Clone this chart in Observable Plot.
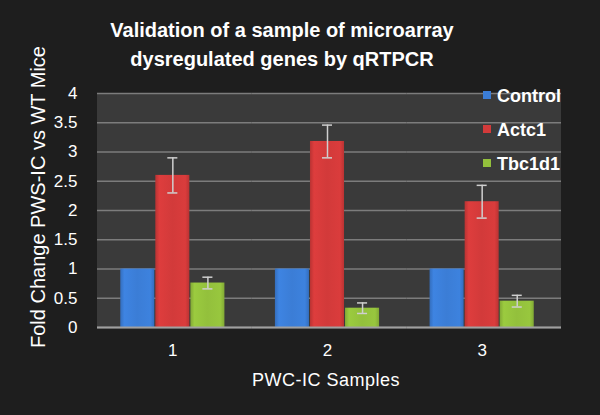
<!DOCTYPE html>
<html>
<head>
<meta charset="utf-8">
<script src="https://cdn.jsdelivr.net/npm/d3@7"></script>
<script src="https://cdn.jsdelivr.net/npm/@observablehq/plot@0.6"></script>
<style>
  body { margin: 0; background: #1e1e1e; }
  #wrap { position: relative; width: 600px; height: 415px; background: #1e1e1e; overflow: hidden; font-family: "Liberation Sans", Arial, sans-serif; color: #fff; }
  #plotbg { position: absolute; left: 97px; top: 93px; width: 464px; height: 234px; background: #3a3a3a; }
  #chart { position: absolute; left: 0; top: 0; }
  #title { position: absolute; left: 0; top: 16px; width: 564px; text-align: center; font-weight: bold; font-size: 20px; line-height: 29px; color: #fff; }
  #ylabel { position: absolute; left: 38px; top: 197px; transform: translate(-50%, -50%) rotate(-90deg); white-space: nowrap; font-size: 20px; line-height: 22px; color: #fff; }
  #xlabel { position: absolute; left: 326px; top: 380px; transform: translate(-50%, -50%); white-space: nowrap; font-size: 18px; letter-spacing: 0.5px; color: #fff; }
  #legend { position: absolute; left: 483px; top: 85px; }
  .li { position: absolute; left: 0; height: 22px; white-space: nowrap; font-weight: bold; font-size: 18px; line-height: 22px; }
  .sw { display: inline-block; width: 8px; height: 8px; margin-right: 6px; vertical-align: middle; position: relative; top: -2px; }
</style>
</head>
<body>
<div id="wrap">
  <div id="plotbg"></div>
  <div id="chart"></div>
  <div id="title">Validation of a sample of microarray<br>dysregulated genes by qRTPCR</div>
  <div id="ylabel">Fold Change PWS-IC vs WT Mice</div>
  <div id="xlabel">PWC-IC Samples</div>
  <div id="legend"></div>
</div>
<script>
const samples = ["1", "2", "3"];
const series = ["Control", "Actc1", "Tbc1d1"];
const controlValues = [1, 1, 1];
const actc1Values = [2.6, 3.18, 2.15];
const actc1Errors = [0.3, 0.28, 0.28];
const tbc1d1Values = [0.76, 0.33, 0.45];
const tbc1d1Errors = [0.1, 0.09, 0.1];
const yTicks = [0, 0.5, 1, 1.5, 2, 2.5, 3, 3.5, 4];
const seriesColors = ["#3b7dd6", "#d23a3a", "#93c03c"];

const valuesBySeries = [controlValues, actc1Values, tbc1d1Values];
const errorsBySeries = [null, actc1Errors, tbc1d1Errors];
const rows = [];
samples.forEach((s, i) => {
  series.forEach((k, j) => {
    const v = valuesBySeries[j][i];
    const e = errorsBySeries[j] ? errorsBySeries[j][i] : null;
    rows.push({sample: s, series: k, value: v, err: e});
  });
});
const errRows = rows.filter(d => d.err != null);

const gradIds = series.map((s, i) => "grad" + i);

const chart = Plot.plot({
  width: 600,
  height: 415,
  marginTop: 93,
  marginBottom: 88,
  marginLeft: 95,
  marginRight: 41,
  style: {background: "transparent", color: "#fff", fontFamily: "Liberation Sans, Arial, sans-serif", fontSize: "17px", overflow: "visible"},
  fx: {domain: samples, padding: 0, round: false, label: null, tickSize: 0, tickPadding: 16, axis: "bottom"},
  x: {domain: series, paddingInner: 0.029, paddingOuter: 0.72, round: false, axis: null},
  y: {domain: [0, 4], ticks: yTicks, tickSize: 0, tickPadding: 18, label: null, tickFormat: d => String(d)},
  color: {domain: series, range: gradIds.map(id => `url(#${id})`)},
  marks: [
    Plot.gridY(yTicks, {stroke: "#7c7c7c", strokeOpacity: 1, strokeWidth: 1.5, insetLeft: 2, insetRight: -2}),
    Plot.barY(rows, {fx: "sample", x: "series", y: "value", fill: "series"}),
    Plot.ruleX(errRows, {fx: "sample", x: "series", y1: d => d.value - d.err, y2: d => d.value + d.err, stroke: "#cfcfcf", strokeWidth: 1.5}),
    Plot.tickY(errRows, {fx: "sample", x: "series", y: d => d.value + d.err, stroke: "#cfcfcf", strokeWidth: 1.5, insetLeft: 12, insetRight: 12}),
    Plot.tickY(errRows, {fx: "sample", x: "series", y: d => d.value - d.err, stroke: "#cfcfcf", strokeWidth: 1.5, insetLeft: 12, insetRight: 12}),
    Plot.ruleY([0], {stroke: "#a0a0a0", strokeWidth: 2, insetLeft: 2, insetRight: -2})
  ]
});

// gradient definitions for a subtle bevel look
const ns = "http://www.w3.org/2000/svg";
const defs = document.createElementNS(ns, "defs");
seriesColors.forEach((c, i) => {
  const g = document.createElementNS(ns, "linearGradient");
  g.setAttribute("id", gradIds[i]);
  g.setAttribute("x1", "0"); g.setAttribute("x2", "1");
  g.setAttribute("y1", "0"); g.setAttribute("y2", "0");
  const base = d3.color(c);
  const stops = [[0, base.darker(0.35)], [0.12, base.brighter(0.15)], [0.5, base], [0.88, base.brighter(0.1)], [1, base.darker(0.35)]];
  stops.forEach(([o, col]) => {
    const st = document.createElementNS(ns, "stop");
    st.setAttribute("offset", o);
    st.setAttribute("stop-color", col.formatHex());
    g.appendChild(st);
  });
  defs.appendChild(g);
});
chart.insertBefore(defs, chart.firstChild);
document.getElementById("chart").appendChild(chart);

// legend
const legend = document.getElementById("legend");
series.forEach((s, i) => {
  const item = document.createElement("div");
  item.className = "li";
  item.style.top = (i * 34) + "px";
  const sw = document.createElement("span");
  sw.className = "sw";
  sw.style.background = seriesColors[i];
  item.appendChild(sw);
  item.appendChild(document.createTextNode(s));
  legend.appendChild(item);
});
</script>
</body>
</html>
